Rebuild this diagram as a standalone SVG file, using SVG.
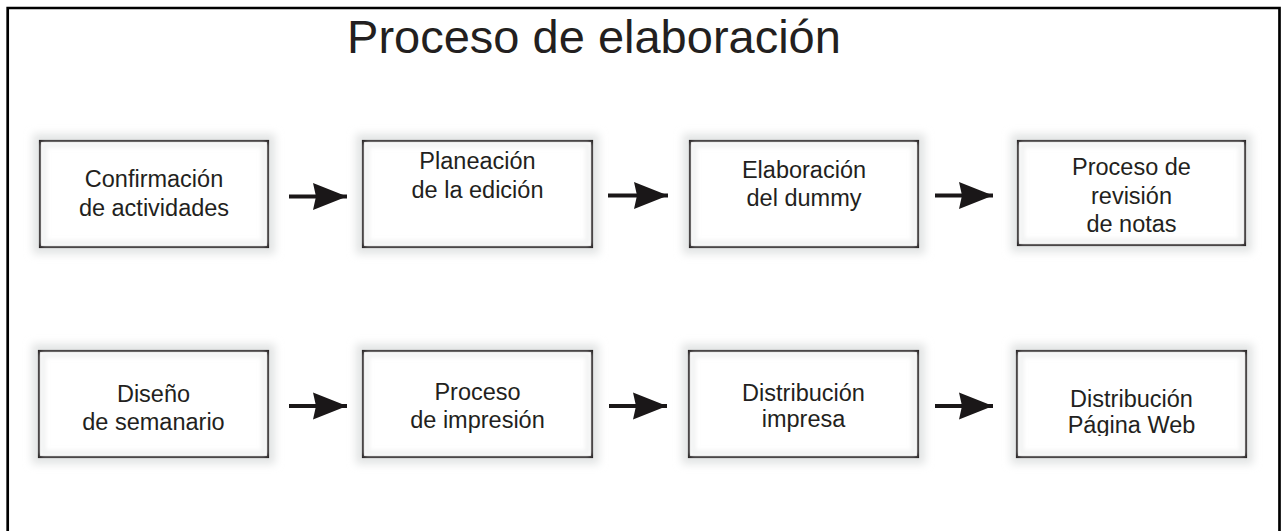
<svg xmlns="http://www.w3.org/2000/svg" width="1284" height="531" viewBox="0 0 1284 531">
  <defs>
    <filter id="glow" x="-20%" y="-30%" width="140%" height="160%">
      <feGaussianBlur stdDeviation="4"/>
    </filter>
    <filter id="inner" x="-10%" y="-10%" width="120%" height="120%">
      <feGaussianBlur stdDeviation="2"/>
    </filter>
    <marker id="head" markerUnits="userSpaceOnUse" markerWidth="36" markerHeight="28" refX="34" refY="14" orient="auto" viewBox="0 0 36 28">
      <path d="M0,0.5 L34,14 L0,27.5 L3,14 Z" fill="#1a1718"/>
    </marker>
    <clipPath id="clipB8">
      <rect x="1018" y="351" width="228" height="85"/>
    </clipPath>
    <style>
      .frame { fill: none; stroke: #000; stroke-width: 2.7; }
      .title { font-family: "Liberation Sans", Arial, sans-serif; font-size: 47px; fill: #231f20; text-anchor: middle; }
      .shadow { fill: #e2e4e4; filter: url(#glow); }
      .box { fill: #ffffff; stroke: #231f20; stroke-width: 2.2; }
      .innerglow { fill: none; stroke: #f0f1f1; stroke-width: 5; filter: url(#inner); }
      .lbl { font-family: "Liberation Sans", Arial, sans-serif; font-size: 23.5px; fill: #231f20; text-anchor: middle; }
      .conn { stroke: #1a1718; stroke-width: 4; fill: none; marker-end: url(#head); }
    </style>
  </defs>

  <rect width="1284" height="531" fill="#ffffff"/>
  <path class="frame" d="M7.7,540 V8 H1279.5 V540"/>

  <text class="title" x="594" y="53">Proceso de elaboración</text>

  <g id="node-confirmacion">
    <rect class="shadow" x="33" y="134" width="242" height="120"/>
    <rect class="box" x="40" y="141" width="228" height="106"/>
    <rect class="innerglow" x="44" y="145" width="220" height="98"/>
    <text class="lbl"><tspan x="154" y="187">Confirmación</tspan><tspan x="154" y="216">de actividades</tspan></text>
  </g>
  <g id="node-planeacion">
    <rect class="shadow" x="356" y="134" width="243" height="120"/>
    <rect class="box" x="363" y="141" width="229" height="106"/>
    <rect class="innerglow" x="367" y="145" width="221" height="98"/>
    <text class="lbl"><tspan x="477.5" y="169">Planeación</tspan><tspan x="477.5" y="198">de la edición</tspan></text>
  </g>
  <g id="node-elaboracion">
    <rect class="shadow" x="683" y="134" width="242" height="120"/>
    <rect class="box" x="690" y="141" width="228" height="106"/>
    <rect class="innerglow" x="694" y="145" width="220" height="98"/>
    <text class="lbl"><tspan x="804" y="178">Elaboración</tspan><tspan x="804" y="206">del dummy</tspan></text>
  </g>
  <g id="node-revision">
    <rect class="shadow" x="1011" y="134" width="241" height="118"/>
    <rect class="box" x="1018" y="141" width="227" height="104"/>
    <rect class="innerglow" x="1022" y="145" width="219" height="96"/>
    <text class="lbl"><tspan x="1131.5" y="175">Proceso de</tspan><tspan x="1131.5" y="203.5">revisión</tspan><tspan x="1131.5" y="231.5">de notas</tspan></text>
  </g>

  <g id="node-diseno">
    <rect class="shadow" x="32" y="344" width="243" height="120"/>
    <rect class="box" x="39" y="351" width="229" height="106"/>
    <rect class="innerglow" x="43" y="355" width="221" height="98"/>
    <text class="lbl"><tspan x="153.5" y="401.5">Diseño</tspan><tspan x="153.5" y="430">de semanario</tspan></text>
  </g>
  <g id="node-impresion">
    <rect class="shadow" x="356" y="344" width="243" height="120"/>
    <rect class="box" x="363" y="351" width="229" height="106"/>
    <rect class="innerglow" x="367" y="355" width="221" height="98"/>
    <text class="lbl"><tspan x="477.5" y="400">Proceso</tspan><tspan x="477.5" y="428">de impresión</tspan></text>
  </g>
  <g id="node-distribucion-impresa">
    <rect class="shadow" x="682" y="344" width="243" height="120"/>
    <rect class="box" x="689" y="351" width="229" height="106"/>
    <rect class="innerglow" x="693" y="355" width="221" height="98"/>
    <text class="lbl"><tspan x="803.5" y="400.5">Distribución</tspan><tspan x="803.5" y="427">impresa</tspan></text>
  </g>
  <g id="node-distribucion-web">
    <rect class="shadow" x="1011" y="344" width="242" height="120"/>
    <rect class="box" x="1017" y="351" width="229" height="106"/>
    <rect class="innerglow" x="1021" y="355" width="221" height="98"/>
    <g clip-path="url(#clipB8)">
      <text class="lbl"><tspan x="1131.5" y="406.5">Distribución</tspan><tspan x="1131.5" y="433">Página Web</tspan></text>
    </g>
  </g>

  <g id="connectors">
    <line class="conn" x1="289" y1="196.5" x2="347" y2="196.5"/>
    <line class="conn" x1="608" y1="195.5" x2="668" y2="195.5"/>
    <line class="conn" x1="935" y1="195.5" x2="993" y2="195.5"/>
    <line class="conn" x1="289" y1="406" x2="347" y2="406"/>
    <line class="conn" x1="609" y1="406" x2="667" y2="406"/>
    <line class="conn" x1="935" y1="406" x2="993" y2="406"/>
  </g>
</svg>
